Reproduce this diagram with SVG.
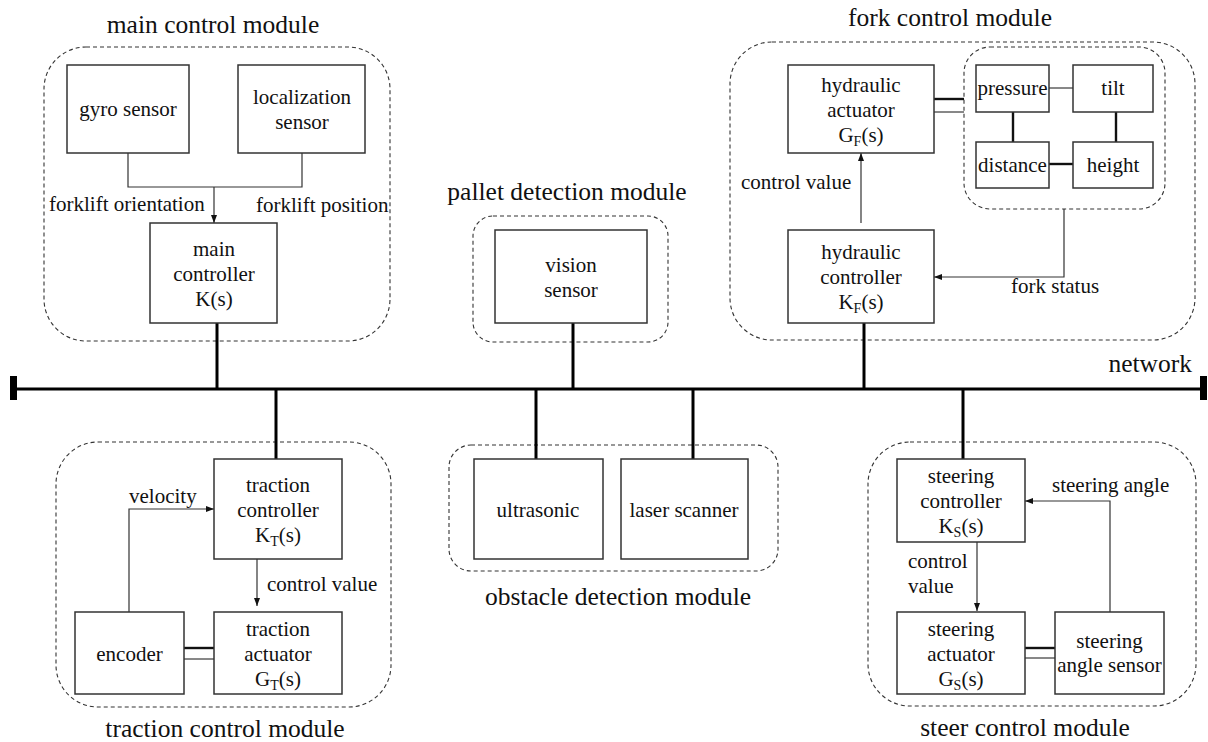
<svg xmlns="http://www.w3.org/2000/svg" width="1208" height="742" viewBox="0 0 1208 742" font-family="'Liberation Serif', 'DejaVu Serif', 'Times New Roman', serif">
<style>
.box{fill:#fff;stroke:#333;stroke-width:1.5}
.mod{fill:none;stroke:#333;stroke-width:1.1;stroke-dasharray:4 3}
.net{stroke:#000;stroke-width:3;fill:none}
.ln{stroke:#333;stroke-width:1.2;fill:none}
.thk{stroke:#111;stroke-width:2.4;fill:none}
.thn{stroke:#111;stroke-width:1;fill:none}
text{font-family:'Liberation Serif','DejaVu Serif','Times New Roman',serif;font-size:21px;fill:#111}
.c{text-anchor:middle}
.t{font-size:25.5px}
.sub{font-size:14px}
</style>
<defs>
<marker id="ah" viewBox="0 0 8 6" refX="8" refY="3" markerWidth="8" markerHeight="6" markerUnits="userSpaceOnUse" orient="auto">
<path d="M0,0 L8,3 L0,6 z" fill="#111"/>
</marker>
</defs>

<!-- modules (dashed containers) and titles -->
<g id="main-control-module">
<rect class="mod" x="44" y="47" width="346" height="294" rx="42"/>
<text class="t c" x="213" y="33">main control module</text>
</g>
<g id="pallet-detection-module">
<rect class="mod" x="473" y="216" width="195" height="126" rx="20"/>
<text class="t c" x="567" y="200">pallet detection module</text>
</g>
<g id="fork-control-module">
<rect class="mod" x="730" y="42" width="465" height="298" rx="42"/>
<text class="t c" x="950" y="26">fork control module</text>
</g>
<g id="fork-sensor-group">
<rect class="mod" x="964" y="47" width="201" height="162" rx="26"/>
</g>
<g id="traction-control-module">
<rect class="mod" x="56" y="442" width="335" height="265" rx="42"/>
<text class="t c" x="225" y="737">traction control module</text>
</g>
<g id="obstacle-detection-module">
<rect class="mod" x="449" y="445" width="329" height="126" rx="22"/>
<text class="t c" x="618" y="605">obstacle detection module</text>
</g>
<g id="steer-control-module">
<rect class="mod" x="868" y="442" width="328" height="264" rx="42"/>
<text class="t c" x="1025" y="736">steer control module</text>
</g>

<!-- connectors -->
<g id="connectors">
<!-- network bus -->
<line class="net" x1="17" y1="389" x2="1201" y2="389"/>
<rect x="10" y="376" width="7" height="24" fill="#000"/>
<rect x="1200" y="376" width="7" height="24" fill="#000"/>
<text class="t" x="1192" y="372" text-anchor="end">network</text>
<!-- drops -->
<line class="net" x1="217" y1="323" x2="217" y2="389"/>
<line class="net" x1="573" y1="323" x2="573" y2="389"/>
<line class="net" x1="864" y1="323" x2="864" y2="389"/>
<line class="net" x1="276" y1="389" x2="276" y2="459"/>
<line class="net" x1="536" y1="389" x2="536" y2="459"/>
<line class="net" x1="693" y1="389" x2="693" y2="459"/>
<line class="net" x1="963" y1="389" x2="963" y2="459"/>

<!-- main module -->
<polyline class="ln" points="128,153 128,187 302,187 302,153"/>
<line class="ln" x1="214" y1="187" x2="214" y2="223" marker-end="url(#ah)"/>
<text x="49" y="211">forklift orientation</text>
<text x="256" y="212">forklift position</text>

<!-- fork module -->
<line class="ln" x1="861" y1="223" x2="861" y2="153" marker-end="url(#ah)"/>
<text x="741" y="189">control value</text>
<polyline class="ln" points="1064,209 1064,277 934,277" marker-end="url(#ah)"/>
<text x="1011" y="293">fork status</text>
<line class="thk" x1="934" y1="99" x2="964" y2="99"/>
<line class="thn" x1="934" y1="112" x2="964" y2="112"/>
<line class="thn" x1="1049" y1="88" x2="1073" y2="88"/>
<line class="thk" x1="1013" y1="112" x2="1013" y2="142"/>
<line class="thk" x1="1116" y1="112" x2="1116" y2="142"/>
<line class="thk" x1="1049" y1="164" x2="1073" y2="164"/>

<!-- traction module -->
<polyline class="ln" points="129,612 129,509 214,509" marker-end="url(#ah)"/>
<text x="129" y="503">velocity</text>
<line class="ln" x1="257" y1="559" x2="257" y2="606" marker-end="url(#ah)"/>
<text x="267" y="591">control value</text>
<line class="thk" x1="184" y1="648" x2="214" y2="648"/>
<line class="thn" x1="184" y1="659" x2="214" y2="659"/>

<!-- steer module -->
<polyline class="ln" points="1110,612 1110,501 1025,501" marker-end="url(#ah)"/>
<text x="1052" y="492">steering angle</text>
<line class="ln" x1="977" y1="542" x2="977" y2="611" marker-end="url(#ah)"/>
<text x="908" y="568">control</text>
<text x="908" y="593">value</text>
<line class="thk" x1="1025" y1="648" x2="1055" y2="648"/>
<line class="thn" x1="1025" y1="658" x2="1055" y2="658"/>
</g>

<!-- nodes -->
<g id="gyro-sensor">
<rect class="box" x="67" y="65" width="122" height="88"/>
<text class="c" x="128" y="116">gyro sensor</text>
</g>
<g id="localization-sensor">
<rect class="box" x="238" y="65" width="127" height="88"/>
<text class="c" x="302" y="104">localization</text>
<text class="c" x="302" y="129">sensor</text>
</g>
<g id="main-controller">
<rect class="box" x="150" y="223" width="127" height="100"/>
<text class="c" x="214" y="256">main</text>
<text class="c" x="214" y="281">controller</text>
<text class="c" x="214" y="306">K(s)</text>
</g>
<g id="vision-sensor">
<rect class="box" x="495" y="230" width="152" height="93"/>
<text class="c" x="571" y="272">vision</text>
<text class="c" x="571" y="297">sensor</text>
</g>
<g id="hydraulic-actuator">
<rect class="box" x="788" y="65" width="146" height="88"/>
<text class="c" x="861" y="92">hydraulic</text>
<text class="c" x="861" y="117">actuator</text>
<text class="c" x="861" y="142">G<tspan class="sub" dy="4">F</tspan><tspan dy="-4">(s)</tspan></text>
</g>
<g id="hydraulic-controller">
<rect class="box" x="788" y="230" width="146" height="93"/>
<text class="c" x="861" y="259">hydraulic</text>
<text class="c" x="861" y="284">controller</text>
<text class="c" x="861" y="309">K<tspan class="sub" dy="4">F</tspan><tspan dy="-4">(s)</tspan></text>
</g>
<g id="pressure">
<rect class="box" x="976" y="65" width="73" height="47"/>
<text class="c" x="1012.5" y="95">pressure</text>
</g>
<g id="tilt">
<rect class="box" x="1073" y="65" width="80" height="47"/>
<text class="c" x="1113" y="95">tilt</text>
</g>
<g id="distance">
<rect class="box" x="976" y="142" width="73" height="46"/>
<text class="c" x="1012.5" y="172">distance</text>
</g>
<g id="height">
<rect class="box" x="1073" y="142" width="80" height="46"/>
<text class="c" x="1113" y="172">height</text>
</g>
<g id="traction-controller">
<rect class="box" x="214" y="459" width="128" height="100"/>
<text class="c" x="278" y="492">traction</text>
<text class="c" x="278" y="517">controller</text>
<text class="c" x="278" y="542">K<tspan class="sub" dy="4">T</tspan><tspan dy="-4">(s)</tspan></text>
</g>
<g id="encoder">
<rect class="box" x="75" y="612" width="109" height="82"/>
<text class="c" x="129.5" y="661">encoder</text>
</g>
<g id="traction-actuator">
<rect class="box" x="214" y="612" width="128" height="82"/>
<text class="c" x="278" y="636">traction</text>
<text class="c" x="278" y="661">actuator</text>
<text class="c" x="278" y="686">G<tspan class="sub" dy="4">T</tspan><tspan dy="-4">(s)</tspan></text>
</g>
<g id="ultrasonic">
<rect class="box" x="474" y="459" width="129" height="100"/>
<text class="c" x="538" y="517">ultrasonic</text>
</g>
<g id="laser-scanner">
<rect class="box" x="621" y="459" width="127" height="100"/>
<text class="c" x="684" y="517">laser scanner</text>
</g>
<g id="steering-controller">
<rect class="box" x="897" y="459" width="128" height="83"/>
<text class="c" x="961" y="483">steering</text>
<text class="c" x="961" y="508">controller</text>
<text class="c" x="961" y="533">K<tspan class="sub" dy="4">S</tspan><tspan dy="-4">(s)</tspan></text>
</g>
<g id="steering-actuator">
<rect class="box" x="897" y="612" width="128" height="82"/>
<text class="c" x="961" y="636">steering</text>
<text class="c" x="961" y="661">actuator</text>
<text class="c" x="961" y="686">G<tspan class="sub" dy="4">S</tspan><tspan dy="-4">(s)</tspan></text>
</g>
<g id="steering-angle-sensor">
<rect class="box" x="1055" y="612" width="109" height="82"/>
<text class="c" x="1109.5" y="648">steering</text>
<text class="c" x="1109.5" y="672">angle sensor</text>
</g>
</svg>
